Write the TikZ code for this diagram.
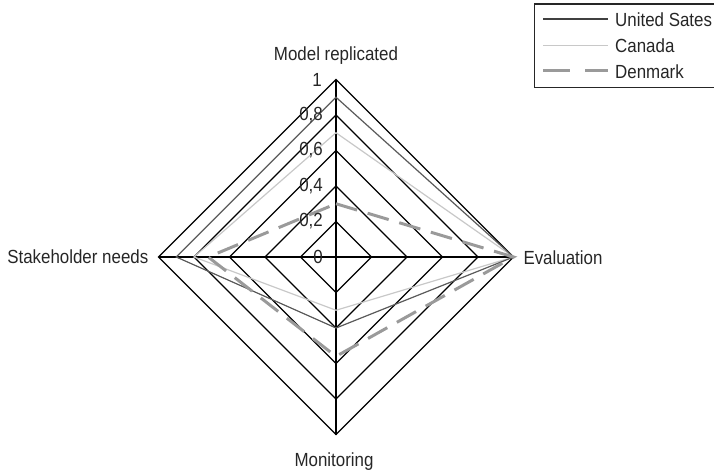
\documentclass[tikz,border=0pt]{standalone}
\usepackage{fontspec}
\setmainfont{Liberation Sans}[FakeStretch=0.89]
\definecolor{usgrey}{HTML}{5A5A5A}
\definecolor{cagrey}{HTML}{C8C8C8}
\definecolor{dkgrey}{HTML}{9A9A9A}
\begin{document}
\begin{tikzpicture}[x=1pt,y=-1pt,
  gridline/.style={line width=1.3pt, black},
  axisline/.style={line width=1.5pt, black},
  usline/.style={line width=1.2pt, draw=usgrey},
  caline/.style={line width=1.2pt, draw=cagrey},
  dkline/.style={line width=3pt, draw=dkgrey, dash pattern=on 22pt off 11pt},
  lbl/.style={font=\fontsize{19}{22}\selectfont, inner sep=0pt, text=black!85},
  tick/.style={lbl, anchor=east}]
\useasboundingbox (0,0) rectangle (714,474);
\pgfmathsetmacro{\R}{177.5}

\begin{scope}[shift={(336,257)}]
  % concentric grid diamonds, steps of 0.2
  \foreach \v in {0.2,0.4,0.6,0.8,1}{
    \draw[gridline] (0,-\v*\R) -- (\v*\R,0) -- (0,\v*\R) -- (-\v*\R,0) -- cycle;
  }
  % axis end points
  \coordinate (top) at (0,-\R);
  \coordinate (right) at (\R,0);
  \coordinate (bottom) at (0,\R);
  \coordinate (left) at (-\R,0);
  \draw[axisline] (left) -- (right);
  \draw[axisline] (top) -- (bottom);

  % data series: top, right, bottom, left
  \draw[caline] (0,-0.7*\R) -- (\R,0) -- (0,0.3*\R) -- (-0.8*\R,0) -- cycle;
  \draw[usline] (0,-0.9*\R) -- (\R,0) -- (0,0.4*\R) -- (-0.9*\R,0) -- cycle;
  \draw[dkline] (0,-0.3*\R) -- (\R,0) -- (0,0.56*\R) -- (-0.72*\R,0) -- cycle;

  % scale labels
  \node[tick] (t0) at (-13,0) {0};
  \node[tick] (t2) at (-13,-0.2*\R) {0,2};
  \node[tick] (t4) at (-13,-0.4*\R) {0,4};
  \node[tick] (t6) at (-13,-0.6*\R) {0,6};
  \node[tick] (t8) at (-13,-0.8*\R) {0,8};
  \node[tick] (t10) at (-14,-\R) {1};

  % axis names
  \node[lbl, anchor=base] (mr) at (0,-197) {Model replicated};
  \node[lbl, anchor=base east] (sn) at (-187.5,6.3) {Stakeholder needs};
  \node[lbl, anchor=base west] (ev) at (187.3,7) {Evaluation};
  \node[lbl, anchor=base] (mo) at (-2,209.5) {Monitoring};
\end{scope}

% legend
\draw[line width=1.5pt, black!85] (534.3,4) rectangle (717,87.7);
\coordinate (l1a) at (543,19);   \coordinate (l1b) at (608,19);
\coordinate (l2a) at (543,45.7); \coordinate (l2b) at (608,45.7);
\coordinate (l3a) at (543,70.7); \coordinate (l3b) at (608,70.7);
\draw[line width=1.4pt, draw=black!75] (l1a) -- (l1b);
\draw[caline] (l2a) -- (l2b);
\draw[line width=3pt, draw=dkgrey, dash pattern=on 27pt off 15pt] (l3a) -- (l3b);
\node[lbl, anchor=base west] (lg1) at (615,26.7) {United Sates};
\node[lbl, anchor=base west] (lg2) at (615,52.3) {Canada};
\node[lbl, anchor=base west] (lg3) at (615,78.3) {Denmark};
\end{tikzpicture}
\end{document}
